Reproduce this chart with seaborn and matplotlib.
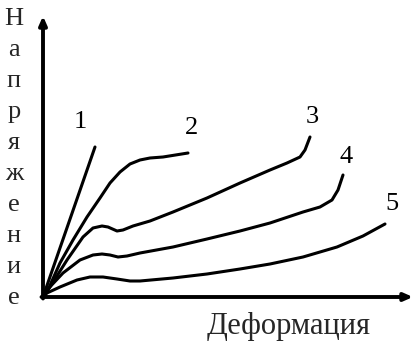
import matplotlib
matplotlib.use("Agg")
import matplotlib.pyplot as plt
import seaborn as sns
import pandas as pd

# Curves (strain, stress) in arbitrary units
curve_labels = ["1", "2", "3", "4", "5"]
strain_1 = [0, 52]
stress_1 = [0, 150]
strain_2 = [0, 4, 17, 30, 44, 57, 67, 77, 87, 97, 107, 120, 145]
stress_2 = [0, 5, 34, 57, 80, 99, 114, 125, 133, 137, 139, 140, 144]
strain_3 = [0, 7, 24, 40, 50, 59, 65, 74, 80, 90, 107, 130, 164, 197, 227, 244, 257, 262, 267]
stress_3 = [0, 10, 37, 60, 69, 71, 70, 66, 67, 71, 76, 85, 99, 114, 127, 134, 140, 147, 160]
strain_4 = [0, 4, 20, 37, 50, 59, 67, 75, 84, 97, 130, 164, 197, 227, 260, 277, 289, 295, 300]
stress_4 = [0, 7, 24, 37, 42, 43, 42, 40, 41, 44, 50, 58, 66, 74, 85, 90, 97, 107, 122]
strain_5 = [0, 4, 17, 34, 47, 60, 74, 87, 97, 130, 164, 197, 227, 260, 294, 320, 342]
stress_5 = [0, 4, 10, 17, 20, 20, 18, 16, 16, 19, 23, 28, 33, 40, 50, 61, 73]

xlabel = "Деформация"
ylabel = "Напряжение"

strains = [strain_1, strain_2, strain_3, strain_4, strain_5]
stresses = [stress_1, stress_2, stress_3, stress_4, stress_5]

rows = []
for lab, xs, ys in zip(curve_labels, strains, stresses):
    for i, (x, y) in enumerate(zip(xs, ys)):
        rows.append({"curve": lab, "order": i, "strain": x, "stress": y})
df = pd.DataFrame(rows)

sns.set_style("white")
plt.rcParams["font.family"] = ["Liberation Serif", "DejaVu Serif"]

fig = plt.figure(figsize=(4.2, 3.47), dpi=100)
ax = fig.add_axes([0, 0, 1, 1])
ax.set_xlim(-43, 377)
ax.set_ylim(-50, 297)
ax.axis("off")

sns.lineplot(data=df, x="strain", y="stress", units="curve", estimator=None,
             sort=False, color="black", linewidth=2.2, ax=ax, legend=False)

# curve number labels placed just above each curve end
label_offsets = [(-15, 25), (4, 25), (2, 20), (3, 18), (7, 20)]
for lab, xs, ys, (dx, dy) in zip(curve_labels, strains, stresses, label_offsets):
    ax.text(xs[-1] + dx, ys[-1] + dy, lab, ha="center", va="center",
            fontsize=19, color="black")

# axes with arrows
arrow = dict(arrowstyle="-|>,head_length=0.5,head_width=0.22", color="black",
             lw=2.8, shrinkA=0, shrinkB=0)
ax.annotate("", xy=(370, 0), xytext=(-1.5, 0), arrowprops=arrow)
ax.annotate("", xy=(0, 281), xytext=(0, -1.5), arrowprops=arrow)

ax.text(246, -37, xlabel, ha="center", va="baseline", fontsize=22)
ax.text(-29, 289, "\n".join(ylabel), ha="center", va="top", fontsize=19,
        linespacing=1.53)

fig.savefig("out.png", dpi=100)
